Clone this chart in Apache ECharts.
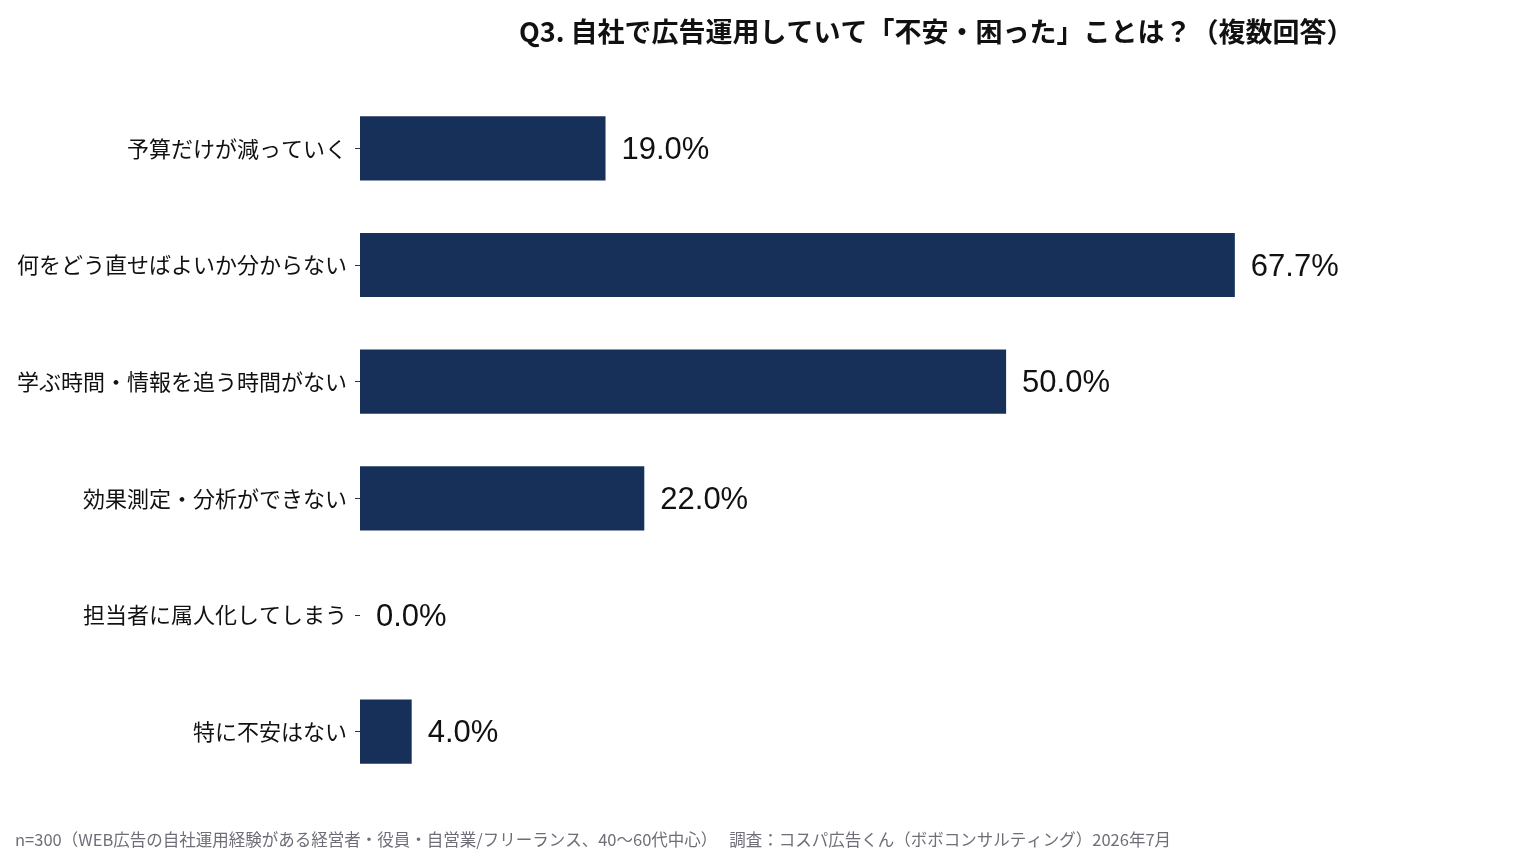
<!DOCTYPE html>
<html><head><meta charset="utf-8">
<script src="https://cdn.jsdelivr.net/npm/echarts@6/dist/echarts.min.js"></script>
<style>html,body{margin:0;padding:0;background:#fff}#c{width:1536px;height:858px}</style>
</head><body><div id="c"></div>
<script>
const titleText = 'Q3. 自社で広告運用していて「不安・困った」ことは？（複数回答）';
const footerText = 'n=300（WEB広告の自社運用経験がある経営者・役員・自営業/フリーランス、40〜60代中心）　 調査：コスパ広告くん（ボボコンサルティング）2026年7月';
const categories = ['予算だけが減っていく','何をどう直せばよいか分からない','学ぶ時間・情報を追う時間がない','効果測定・分析ができない','担当者に属人化してしまう','特に不安はない'];
const values = [19.0, 67.7, 50.0, 22.0, 0.0, 4.0];
const FONT = '"Noto Sans CJK JP", "Noto Sans", sans-serif';
const chart = echarts.init(document.getElementById('c'));
chart.setOption({
  animation:false,
  textStyle:{fontFamily:FONT},
  title:[
    {text:titleText,left:514,top:13,textStyle:{fontFamily:FONT,fontSize:27,fontWeight:'bold',color:'#111'}},
    {text:footerText,left:10,top:826,textStyle:{fontFamily:FONT,fontSize:16.5,fontWeight:'normal',color:'#6e6e78'}}
  ],
  grid:{left:360,right:13,top:90,bottom:68,containLabel:false},
  xAxis:{type:'value',min:0,max:90,show:false},
  yAxis:{type:'category',data:categories,inverse:true,
    axisLine:{show:false},
    axisTick:{show:true,alignWithLabel:true,length:5,lineStyle:{color:'#333',width:1}},
    axisLabel:{fontFamily:FONT,fontSize:22,color:'#111',margin:13}},
  series:[{type:'bar',data:values,barWidth:'55%',
    itemStyle:{color:'#17305a'},
    label:{show:true,position:'right',distance:16,offset:[0,2],formatter:p=>p.value.toFixed(1)+'%',
      fontFamily:'"Liberation Sans", Arial, sans-serif',fontSize:31,color:'#111'}}]
});
</script></body></html>
